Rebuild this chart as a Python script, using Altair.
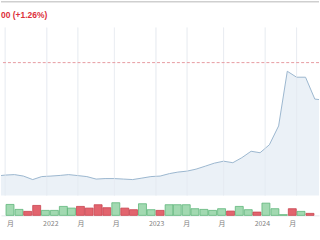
import altair as alt
import pandas as pd

# ---- data ----
price_months = ["2021-07-15", "2021-08-15", "2021-09-15", "2021-10-15", "2021-11-15", "2021-12-15",
                "2022-01-15", "2022-02-15", "2022-03-15", "2022-04-15", "2022-05-15", "2022-06-15",
                "2022-07-15", "2022-08-15", "2022-09-15", "2022-10-15", "2022-11-15", "2022-12-15",
                "2023-01-15", "2023-02-15", "2023-03-15", "2023-04-15", "2023-05-15", "2023-06-15",
                "2023-07-15", "2023-08-15", "2023-09-15", "2023-10-15", "2023-11-15", "2023-12-15",
                "2024-01-15", "2024-02-15", "2024-03-15", "2024-04-15", "2024-05-15", "2024-06-15",
                "2024-07-15"]
price_values = [10.14, 10.41, 10.54, 10.14, 9.19, 10.00,
                10.14, 10.32, 10.54, 10.27, 10.00, 9.32,
                9.46, 9.46, 9.32, 9.19, 9.59, 10.00,
                10.14, 10.81, 11.22, 11.49, 12.03, 12.84,
                13.65, 14.19, 13.78, 15.14, 16.89, 16.49,
                18.65, 23.78, 38.65, 37.03, 37.03, 31.08,
                30.81]

vol_months = price_months[1:-1]
vol_values = [11.0, 6.0, 4.0, 10.0, 5.0,
              5.0, 9.0, 7.3, 9.0, 7.3, 10.7, 7.7, 12.7, 7.3, 5.7, 11.7, 5.7,
              5.0, 10.7, 10.7, 10.7, 6.7, 6.0, 5.0, 6.7, 4.3, 9.0, 5.7, 3.3,
              12.3, 6.7, 0.7, 6.7, 4.0, 2.0]
vol_dirs = ["g", "g", "r", "r", "g",
            "g", "g", "g", "r", "r", "r", "r", "g", "r", "r", "g", "g",
            "r", "g", "g", "g", "g", "g", "g", "g", "r", "g", "g", "r",
            "g", "g", "g", "r", "g", "r"]

tick_dates = [(2021, 8, 15), (2022, 1, 1), (2022, 4, 15), (2022, 8, 15), (2023, 1, 1),
              (2023, 4, 15), (2023, 8, 15), (2024, 1, 1), (2024, 4, 15)]
price_grid = [10, 20, 30]
high_line = 41.0
header_text = "00 (+1.26%)"

price_df = pd.DataFrame({"date": price_months, "price": price_values})
vol_df = pd.DataFrame({"date": vol_months, "vol": vol_values, "dir": vol_dirs})
tick_df = pd.DataFrame({"date": ["%04d-%02d-%02d" % t for t in tick_dates]})

x_domain = [alt.DateTime(year=2021, month=8, date=1), alt.DateTime(year=2024, month=6, date=29)]
x_scale = alt.Scale(domain=x_domain)
y_scale = alt.Scale(domain=[4.86, 57.84], zero=False, nice=False)

W = 320

vgrid = alt.Chart(tick_df).mark_rule(color="#edf0f4", strokeWidth=1).encode(
    x=alt.X("date:T", scale=x_scale, axis=None),
    y=alt.value(27), y2=alt.value(196),
)

area = alt.Chart(price_df).mark_area(
    clip=True, color="#e3ebf4", line={"color": "#9bb6cf", "strokeWidth": 1}
).encode(
    x=alt.X("date:T", scale=x_scale,
            axis=alt.Axis(labels=False, ticks=False, grid=False, domain=True,
                          domainColor="#dbe2ea", title=None)),
    y=alt.Y("price:Q", scale=y_scale,
            axis=alt.Axis(values=price_grid, labels=False, ticks=False, domain=False,
                          grid=True, gridColor="#eef0f2", title=None)),
)

vgrid_top = alt.Chart(tick_df).mark_rule(color="#e6ebf1", strokeWidth=1, opacity=0.5).encode(
    x=alt.X("date:T", scale=x_scale, axis=None),
    y=alt.value(27), y2=alt.value(196),
)

dash = alt.Chart(pd.DataFrame({"v": [high_line]})).mark_rule(
    color="#e79aa0", strokeDash=[3, 2], strokeWidth=1
).encode(y=alt.Y("v:Q", scale=y_scale, axis=None))

header = alt.Chart(pd.DataFrame({"t": [header_text]})).mark_text(
    align="left", baseline="middle", color="#dc2f3a", font="Liberation Sans",
    fontSize=8.5, fontWeight="bold"
).encode(text="t:N", x=alt.value(0), y=alt.value(14))

top_rule = alt.Chart(pd.DataFrame({"a": [0]})).mark_rule(
    color="#cfcfcf", strokeWidth=1.5
).encode(x=alt.value(0), x2=alt.value(W), y=alt.value(1))

price_panel = alt.layer(vgrid, area, vgrid_top, dash, header, top_rule).properties(
    width=W, height=196)

bars = alt.Chart(vol_df).mark_bar(size=8, strokeWidth=0.8).encode(
    x=alt.X("date:T", scale=x_scale,
            axis=alt.Axis(values=[alt.DateTime(year=y, month=m, date=d) for (y, m, d) in tick_dates],
                          labelExpr="month(datum.value) == 0 ? timeFormat(datum.value, '%Y') : '月'",
                          ticks=False, grid=False, domain=True, domainColor="#e3e6ea",
                          labelFont="Noto Sans CJK SC", labelFontSize=7, labelColor="#808080",
                          labelPadding=4, labelFlush=False, labelOverlap=False, title=None)),
    y=alt.Y("vol:Q", scale=alt.Scale(domain=[0, 18], nice=False), axis=None),
    color=alt.Color("dir:N", scale=alt.Scale(domain=["g", "r"], range=["#a2d9b1", "#e2646e"]),
                    legend=None),
    stroke=alt.Stroke("dir:N", scale=alt.Scale(domain=["g", "r"], range=["#5fb67b", "#c9444f"]),
                      legend=None),
)

vol_panel = bars.properties(width=W, height=18)

chart = alt.vconcat(price_panel, vol_panel, spacing=1).properties(
    padding=0, background="white"
).configure_view(stroke=None)

chart.save("out.html", embed_options={"renderer": "svg", "actions": False})
